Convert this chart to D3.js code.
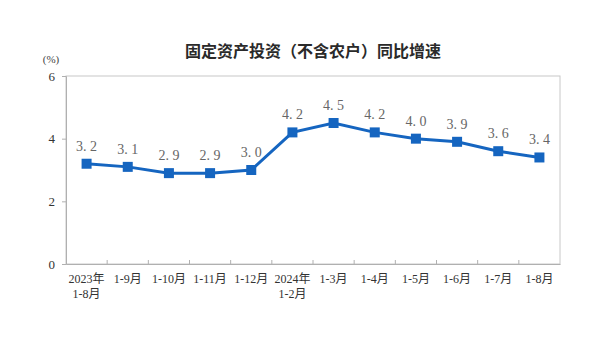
<!DOCTYPE html>
<html><head><meta charset="utf-8">
<script src="https://cdn.jsdelivr.net/npm/d3@7"></script>
<style>body{margin:0;background:#fff}svg{display:block}</style>
</head><body><svg id="c" width="601" height="342"></svg>
<script>
const categories = [["2023年","1-8月"],["1-9月"],["1-10月"],["1-11月"],["1-12月"],["2024年","1-2月"],["1-3月"],["1-4月"],["1-5月"],["1-6月"],["1-7月"],["1-8月"]];
const values = [3.2,3.1,2.9,2.9,3.0,4.2,4.5,4.2,4.0,3.9,3.6,3.4];
const yTicks = [0,2,4,6];
const title = "固定资产投资（不含农户）同比增速";
const unit = "(%)";

const svg = d3.select("#c");
const L=66,R=560,T=76,B=264;
const x = d3.scaleBand().domain(d3.range(values.length)).range([L,R]);
const y = d3.scaleLinear().domain([0,6]).range([B,T]);
const serif = "'Liberation Serif','DejaVu Serif','Noto Sans CJK SC',serif";

svg.append("text").attr("x",313).attr("y",57).attr("text-anchor","middle")
  .attr("font-family","'Noto Sans CJK SC',sans-serif").attr("font-weight","bold").attr("font-size",16).attr("fill","#2a2a2a").text(title);
svg.append("text").attr("x",51).attr("y",63).attr("text-anchor","middle")
  .attr("font-family",serif).attr("font-size",11).attr("fill","#444").text(unit);

// frame
svg.append("rect").attr("x",L).attr("y",T).attr("width",R-L).attr("height",B-T)
  .attr("fill","none").attr("stroke","#c8c8c8").attr("stroke-width",1);

const ya = svg.append("g").attr("transform",`translate(${L},0)`)
  .call(d3.axisLeft(y).tickValues(yTicks).tickSize(4).tickFormat(d3.format("d")));
ya.select(".domain").attr("stroke","#b0b0b0");
ya.selectAll(".tick line").attr("stroke","#b0b0b0");
ya.selectAll("text").attr("font-family",serif).attr("font-size",13).attr("fill","#333").attr("dx",-4);

const xa = svg.append("g").attr("transform",`translate(0,${B})`)
  .call(d3.axisBottom(x).tickSize(0).tickFormat(""));
xa.select(".domain").attr("stroke","#b0b0b0");
// boundary ticks
svg.append("g").selectAll("line").data(d3.range(1,values.length)).join("line")
  .attr("x1",i=>x(i)).attr("x2",i=>x(i)).attr("y1",B).attr("y2",B-4)
  .attr("stroke","#b0b0b0");

const lab = svg.append("g");
categories.forEach((c,i)=>{
  const t = lab.append("text").attr("text-anchor","middle").attr("font-family",serif)
    .attr("font-size",12).attr("fill","#333");
  c.forEach((s,j)=>t.append("tspan").attr("x",x(i)+x.bandwidth()/2).attr("y",283+j*15).text(s));
});

const cx = i=>x(i)+x.bandwidth()/2;
svg.append("path").datum(values)
  .attr("d",d3.line().x((d,i)=>cx(i)).y(d=>y(d)))
  .attr("fill","none").attr("stroke","#1565c0").attr("stroke-width",3);
svg.append("g").selectAll("rect").data(values).join("rect")
  .attr("x",(d,i)=>cx(i)-5).attr("y",d=>y(d)-5).attr("width",10).attr("height",10)
  .attr("fill","#1565c0");
svg.append("g").selectAll("text").data(values).join("text")
  .attr("x",(d,i)=>cx(i)).attr("y",d=>y(d)-13).attr("text-anchor","middle")
  .attr("font-family",serif).attr("font-size",14).attr("fill","#666")
  .text(d=>d.toFixed(1).replace(".",". "));
</script></body></html>
